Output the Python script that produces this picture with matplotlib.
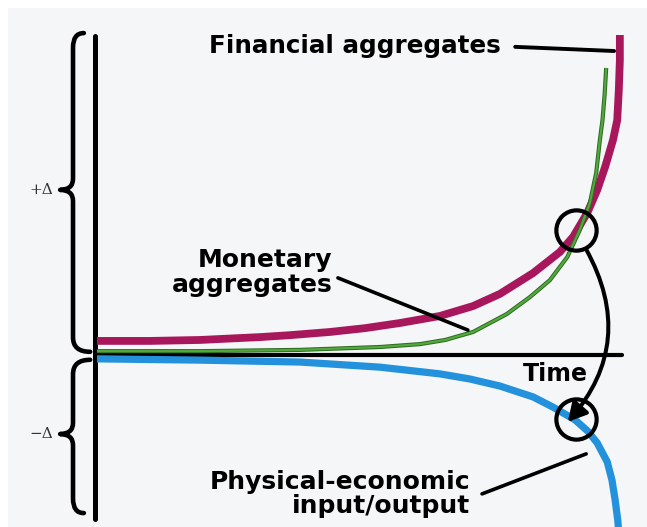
import matplotlib
matplotlib.use("Agg")
import matplotlib.pyplot as plt
import matplotlib.patheffects as pe
from matplotlib.path import Path
from matplotlib.patches import PathPatch, FancyArrowPatch

# curves: time (0..10) vs change (delta)
fin_t = [0.00, 1.01, 1.96, 3.10, 3.67, 4.43, 5.10, 5.76, 6.52, 7.15, 7.66, 8.29, 8.80, 9.05,
         9.32, 9.51, 9.66, 9.81, 9.89, 9.92, 9.94, 9.94]
fin_y = [0.44, 0.44, 0.47, 0.56, 0.62, 0.72, 0.84, 1.00, 1.22, 1.53, 1.91, 2.56, 3.22, 3.69,
         4.44, 5.16, 5.88, 6.72, 7.34, 8.28, 9.22, 10.0]

mon_t = [0.00, 1.96, 3.86, 5.38, 6.14, 6.62, 7.15, 7.79, 8.23, 8.61, 8.94, 9.18, 9.37, 9.49,
         9.56, 9.61, 9.65, 9.68]
mon_y = [0.12, 0.12, 0.16, 0.25, 0.34, 0.47, 0.72, 1.28, 1.81, 2.34, 3.06, 3.91, 4.75, 5.69,
         6.72, 7.34, 8.13, 8.97]

phy_t = [0.00, 1.96, 3.86, 5.38, 6.52, 7.09, 7.66, 8.29, 8.67, 9.09, 9.33, 9.51, 9.70, 9.79,
         9.85, 9.90, 9.94]
phy_y = [-0.12, -0.16, -0.22, -0.38, -0.59, -0.75, -0.97, -1.31, -1.63, -2.03, -2.38, -2.75,
         -3.34, -3.91, -4.53, -5.16, -5.94]

labels = ["Financial aggregates", "Monetary\naggregates", "Time",
          "Physical-economic\ninput/output", "+\u0394", "\u2212\u0394"]

# circled points and the arrow between them
circle_top = (9.11, 3.91)
circle_bot = (9.11, -2.00)

MAGENTA = "#a8175c"
GREEN = "#52a83c"
BLUE = "#2391dc"

fig = plt.figure(figsize=(6.47, 5.27), dpi=100)
fig.patch.set_facecolor("white")
ax = fig.add_axes([8 / 647, 0, 639 / 647, 519 / 527])
ax.set_facecolor("#f4f6f7")
ax.set_xlim(-1.692, 10.456)
ax.set_ylim(-5.375, 10.844)
ax.set_xticks([])
ax.set_yticks([])
for s in ax.spines.values():
    s.set_visible(False)

# axes lines
ax.plot([-0.03, -0.03], [9.97, -5.12], color="black", lw=3.6, solid_capstyle="round", zorder=1)
ax.plot([-0.03, 9.98], [0, 0], color="black", lw=3.0, solid_capstyle="round", zorder=1)


def brace(x_body, x_tip, x_top, x_bot, y_top, y_bot, y_tip, r=0.45, rt=0.35):
    verts = [(x_top, y_top), (x_body, y_top), (x_body, y_top - r),
             (x_body, y_tip + rt), (x_body, y_tip), (x_tip, y_tip),
             (x_body, y_tip), (x_body, y_tip - rt),
             (x_body, y_bot + r), (x_body, y_bot), (x_bot, y_bot)]
    codes = [Path.MOVETO, Path.CURVE3, Path.CURVE3,
             Path.LINETO, Path.CURVE3, Path.CURVE3,
             Path.CURVE3, Path.CURVE3,
             Path.LINETO, Path.CURVE3, Path.CURVE3]
    p = PathPatch(Path(verts, codes), fill=False, lw=3.3, color="black",
                  capstyle="round", joinstyle="round", zorder=1)
    ax.add_patch(p)


brace(-0.456, -0.70, -0.25, -0.13, 10.06, 0.10, 5.16)
brace(-0.456, -0.70, -0.13, -0.25, -0.15, -4.94, -2.47)

# the three curves
ax.plot(phy_t, phy_y, color=BLUE, lw=5.2, solid_capstyle="butt", solid_joinstyle="round", zorder=2)
ax.plot(fin_t, fin_y, color=MAGENTA, lw=5.6, solid_capstyle="butt", solid_joinstyle="round", zorder=3)
ax.plot(mon_t, mon_y, color=GREEN, lw=1.6, solid_capstyle="butt", solid_joinstyle="round", zorder=4,
        path_effects=[pe.Stroke(linewidth=3.0, foreground="#2d6a22"), pe.Normal()])

# circles
for c in (circle_top, circle_bot):
    ax.plot(*c, marker="o", ms=29, mfc="none", mec="black", mew=3.0, zorder=5)

arr = FancyArrowPatch((9.30, 3.30), (8.95, -2.09), connectionstyle="arc3,rad=-0.35",
                      arrowstyle="-|>,head_length=0.55,head_width=0.3", mutation_scale=20,
                      lw=2.9, color="black", shrinkA=0, shrinkB=0, zorder=6)
ax.add_patch(arr)

# leader lines
ax.plot([7.95, 9.83], [9.63, 9.50], color="black", lw=2.8, solid_capstyle="round", zorder=5)
ax.plot([4.58, 7.05], [2.41, 0.78], color="black", lw=2.6, solid_capstyle="round", zorder=5)
ax.plot([7.32, 9.30], [-4.34, -3.09], color="black", lw=2.6, solid_capstyle="round", zorder=5)

bold = dict(family="DejaVu Sans", fontweight="bold", color="black", va="baseline")
ax.text(4.90, 9.44, labels[0], ha="center", fontsize=17.7, **bold)
ax.text(4.47, 1.97, labels[1], ha="right", multialignment="right", linespacing=1.05,
        fontsize=18, **bold)
ax.text(8.71, -0.81, labels[2], ha="center", fontsize=17, **bold)
ax.text(7.09, -4.94, labels[3], ha="right", multialignment="right", linespacing=1.0,
        fontsize=18, **bold)

small = dict(family="DejaVu Serif", fontsize=11, color="#333333", ha="center", va="center")
ax.text(-1.06, 5.16, labels[4], **small)
ax.text(-1.06, -2.47, labels[5], **small)

fig.savefig("out.png", dpi=100, facecolor=fig.get_facecolor())
